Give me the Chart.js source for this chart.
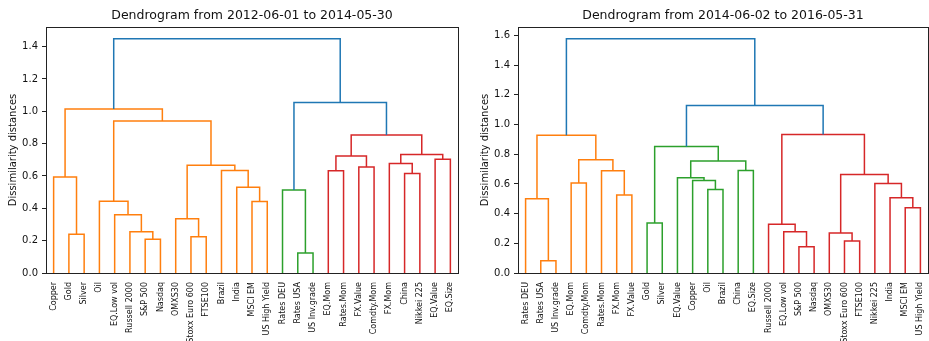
<!DOCTYPE html>
<html><head><meta charset="utf-8">
<script src="https://cdn.jsdelivr.net/npm/chart.js@4"></script>
<style>
html,body{margin:0;padding:0;background:#fff;}
#wrap{position:relative;width:929px;height:341px;overflow:hidden;background:#fff}
canvas{position:absolute;top:0}
</style></head><body>
<div id="wrap">
<canvas id="c1" width="465" height="341" style="left:0px"></canvas>
<canvas id="c2" width="464" height="341" style="left:465px"></canvas>
</div>
<script>
// ---------- DATA ----------
const leftTitle = 'Dendrogram from 2012-06-01 to 2014-05-30';
const leftLeaves = ['Copper','Gold','Silver','Oil','EQ.Low vol','Russell 2000','S&P 500','Nasdaq',
  'OMXS30','Stoxx Euro 600','FTSE100','Brazil','India','MSCI EM','US High Yield','Rates DEU',
  'Rates USA','US Inv.grade','EQ.Mom','Rates.Mom','FX.Value','Comdty.Mom','FX.Mom','China',
  'Nikkei 225','EQ.Value','EQ.Size'];
// merges: [childA, childB, height]; child = leaf name or index of an earlier merge
const leftMerges = [
  ['Gold','Silver',0.239],            // 0
  ['Copper',0,0.593],                 // 1
  ['S&P 500','Nasdaq',0.208],         // 2
  ['Russell 2000',2,0.255],           // 3
  ['EQ.Low vol',3,0.360],             // 4
  ['Oil',4,0.444],                    // 5
  ['Stoxx Euro 600','FTSE100',0.224], // 6
  ['OMXS30',6,0.335],                 // 7
  ['MSCI EM','US High Yield',0.442],  // 8
  ['India',8,0.531],                  // 9
  ['Brazil',9,0.634],                 // 10
  [7,10,0.667],                       // 11
  [5,11,0.940],                       // 12
  [1,12,1.014],                       // 13
  ['Rates USA','US Inv.grade',0.123], // 14
  ['Rates DEU',14,0.514],             // 15
  ['EQ.Mom','Rates.Mom',0.632],       // 16
  ['FX.Value','Comdty.Mom',0.656],    // 17
  [16,17,0.724],                      // 18
  ['China','Nikkei 225',0.615],       // 19
  ['FX.Mom',19,0.677],                // 20
  ['EQ.Value','EQ.Size',0.704],       // 21
  [20,21,0.733],                      // 22
  [18,22,0.854],                      // 23
  [15,23,1.055],                      // 24
  [13,24,1.449]                       // 25
];

const rightTitle = 'Dendrogram from 2014-06-02 to 2016-05-31';
const rightLeaves = ['Rates DEU','Rates USA','US Inv.grade','EQ.Mom','Comdty.Mom','Rates.Mom',
  'FX.Mom','FX.Value','Gold','Silver','EQ.Value','Copper','Oil','Brazil','China','EQ.Size',
  'Russell 2000','EQ.Low vol','S&P 500','Nasdaq','OMXS30','Stoxx Euro 600','FTSE100',
  'Nikkei 225','India','MSCI EM','US High Yield'];
const rightMerges = [
  ['Rates USA','US Inv.grade',0.083], // 0
  ['Rates DEU',0,0.500],              // 1
  ['EQ.Mom','Comdty.Mom',0.607],      // 2
  ['FX.Mom','FX.Value',0.525],        // 3
  ['Rates.Mom',3,0.688],              // 4
  [2,4,0.762],                        // 5
  [1,5,0.928],                        // 6
  ['Gold','Silver',0.336],            // 7
  ['Oil','Brazil',0.563],             // 8
  ['Copper',8,0.623],                 // 9
  ['EQ.Value',9,0.641],               // 10
  ['China','EQ.Size',0.690],          // 11
  [10,11,0.755],                      // 12
  [7,12,0.852],                       // 13
  ['S&P 500','Nasdaq',0.177],         // 14
  ['EQ.Low vol',14,0.278],            // 15
  ['Russell 2000',15,0.328],          // 16
  ['Stoxx Euro 600','FTSE100',0.215], // 17
  ['OMXS30',17,0.269],                // 18
  ['MSCI EM','US High Yield',0.439],  // 19
  ['India',19,0.506],                 // 20
  ['Nikkei 225',20,0.603],            // 21
  [18,21,0.664],                      // 22
  [16,22,0.933],                      // 23
  [13,23,1.128],                      // 24
  [6,24,1.578]                        // 25
];

const yAxisTitle = 'Dissimilarity distances';

// ---------- DENDROGRAM GEOMETRY ----------
const clusterColors = ['#ff7f0e','#2ca02c','#d62728','#9467bd','#8c564b','#e377c2'];
const aboveColor = '#1f77b4';

function dendro(leaves, merges) {
  const maxH = Math.max(...merges.map(m => m[2]));
  const thr = 0.7 * maxH;
  const mnodes = [];
  const ref = r => (typeof r === 'string')
    ? {leaf: true, h: 0, x: 5 + 10 * leaves.indexOf(r)}
    : mnodes[r];
  merges.forEach(m => {
    const a = ref(m[0]), b = ref(m[1]);
    mnodes.push({leaf: false, a, b, h: m[2], x: (a.x + b.x) / 2});
  });
  const root = mnodes[mnodes.length - 1];
  let ci = 0;
  const links = [];
  function walk(node, color) {
    if (node.leaf) return;
    let c = color;
    if (!c && node.h < thr) c = clusterColors[ci++ % clusterColors.length];
    const [l, r] = node.a.x <= node.b.x ? [node.a, node.b] : [node.b, node.a];
    links.push({color: c || aboveColor, pts: [
      {x: l.x, y: l.h}, {x: l.x, y: node.h}, {x: r.x, y: node.h}, {x: r.x, y: r.h}]});
    walk(l, c); walk(r, c);
  }
  walk(root, null);
  return {links, maxH};
}

const FONT = 'DejaVu Sans';
const frame = {
  id: 'frame',
  afterDraw(chart) {
    const {ctx, chartArea: a} = chart;
    ctx.save();
    ctx.strokeStyle = '#222';
    ctx.lineWidth = 1;
    const l = Math.round(a.left) + 0.5, t = Math.round(a.top) + 0.5;
    const r = Math.round(a.right) + 0.5, b = Math.round(a.bottom) + 0.5;
    ctx.strokeRect(l, t, r - l, b - t);
    ctx.restore();
  }
};

function makeChart(id, title, leaves, merges, yWidth, padRight, yTitlePad) {
  const {links, maxH} = dendro(leaves, merges);
  return new Chart(document.getElementById(id), {
    type: 'line',
    data: {datasets: links.map(l => ({
      data: l.pts, borderColor: l.color, borderWidth: 1.5,
      pointRadius: 0, fill: false, tension: 0
    }))},
    options: {
      responsive: false, animation: false, devicePixelRatio: 1,
      layout: {padding: {left: 0, right: padRight, top: 0, bottom: 0}},
      plugins: {
        legend: {display: false},
        tooltip: {enabled: false},
        title: {display: true, text: title, fullSize: false, color: '#111',
          font: {family: FONT, size: 12.5, weight: 'normal'},
          padding: {top: 8, bottom: 4}}
      },
      scales: {
        x: {
          type: 'linear', min: 0, max: 10 * leaves.length, bounds: 'data',
          afterBuildTicks: s => { s.ticks = leaves.map((_, i) => ({value: 5 + 10 * i})); },
          afterFit: s => { s.height = 68; s.paddingLeft = 0; s.paddingRight = 0; },
          ticks: {autoSkip: false, minRotation: 90, maxRotation: 90, padding: 9,
            color: '#111', font: {family: FONT, size: 8},
            callback: (v, i) => leaves[i]},
          grid: {drawOnChartArea: false, drawTicks: false},
          border: {display: false}
        },
        y: {
          type: 'linear', min: 0, max: maxH * 1.05, bounds: 'data',
          afterFit: s => { s.width = yWidth; s.paddingTop = 0; s.paddingBottom = 0; },
          ticks: {stepSize: 0.2, includeBounds: false, padding: 4, color: '#111',
            font: {family: FONT, size: 10}, callback: v => Number(v).toFixed(1)},
          grid: {drawOnChartArea: false, drawTicks: true, tickLength: 4, color: '#222', lineWidth: 1},
          border: {display: false},
          title: {display: true, text: yAxisTitle, color: '#111',
            font: {family: FONT, size: 10}, padding: {top: yTitlePad, bottom: 0}}
        }
      }
    },
    plugins: [frame]
  });
}

makeChart('c1', leftTitle, leftLeaves, leftMerges, 46, 7, 7);
makeChart('c2', rightTitle, rightLeaves, rightMerges, 53, 1, 14);
</script>
</body></html>
